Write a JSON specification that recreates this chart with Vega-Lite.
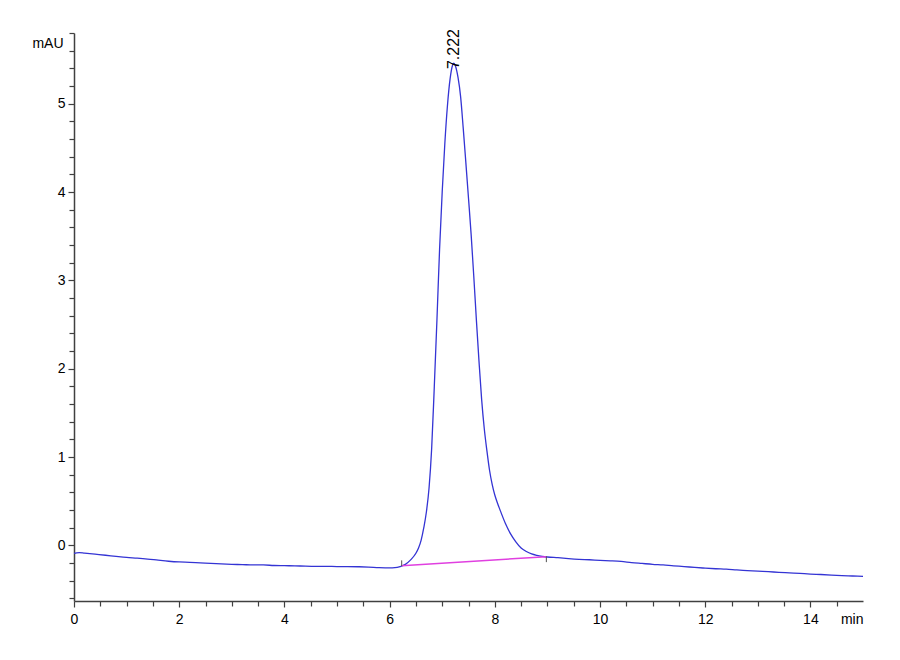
{
  "$schema": "https://vega.github.io/schema/vega-lite/v6.json",
  "width": 789,
  "height": 568,
  "autosize": "none",
  "padding": {"left": 74, "top": 33, "right": 37, "bottom": 59},
  "background": "white",
  "config": {
    "view": {"stroke": null},
    "axis": {
      "grid": false,
      "labelOverlap": false,
      "labelFlush": false,
      "domainColor": "#404040",
      "domainWidth": 1.5,
      "tickColor": "#404040",
      "tickWidth": 1.2,
      "labelColor": "#000000",
      "labelFont": "Liberation Sans",
      "labelFontSize": 14,
      "titleFont": "Liberation Sans",
      "titleFontSize": 14,
      "titleFontWeight": "normal",
      "titleColor": "#000000"
    }
  },
  "datasets": {
    "trace": [
      {"t": 0.0, "v": -0.092}, {"t": 0.05, "v": -0.085}, {"t": 0.1, "v": -0.082},
      {"t": 0.2, "v": -0.088}, {"t": 0.4, "v": -0.1}, {"t": 0.6, "v": -0.112},
      {"t": 0.8, "v": -0.125}, {"t": 1.0, "v": -0.137}, {"t": 1.2, "v": -0.145},
      {"t": 1.4, "v": -0.155}, {"t": 1.6, "v": -0.168}, {"t": 1.8, "v": -0.18},
      {"t": 2.0, "v": -0.188}, {"t": 2.2, "v": -0.192}, {"t": 2.4, "v": -0.198},
      {"t": 2.6, "v": -0.203}, {"t": 2.8, "v": -0.21}, {"t": 3.0, "v": -0.215},
      {"t": 3.2, "v": -0.218}, {"t": 3.4, "v": -0.222}, {"t": 3.6, "v": -0.222},
      {"t": 3.8, "v": -0.228}, {"t": 4.0, "v": -0.23}, {"t": 4.2, "v": -0.232},
      {"t": 4.4, "v": -0.236}, {"t": 4.6, "v": -0.238}, {"t": 4.8, "v": -0.237},
      {"t": 5.0, "v": -0.24}, {"t": 5.2, "v": -0.24}, {"t": 5.4, "v": -0.242},
      {"t": 5.6, "v": -0.246}, {"t": 5.8, "v": -0.252}, {"t": 6.0, "v": -0.255},
      {"t": 6.1, "v": -0.253}, {"t": 6.2, "v": -0.24}, {"t": 6.3, "v": -0.215},
      {"t": 6.4, "v": -0.165}, {"t": 6.5, "v": -0.09}, {"t": 6.55, "v": -0.03},
      {"t": 6.6, "v": 0.06}, {"t": 6.65, "v": 0.2}, {"t": 6.7, "v": 0.38},
      {"t": 6.75, "v": 0.65}, {"t": 6.8, "v": 1.1}, {"t": 6.85, "v": 1.8},
      {"t": 6.9, "v": 2.55}, {"t": 6.95, "v": 3.35}, {"t": 7.0, "v": 4.0},
      {"t": 7.05, "v": 4.55}, {"t": 7.1, "v": 4.98}, {"t": 7.15, "v": 5.28},
      {"t": 7.2, "v": 5.44}, {"t": 7.222, "v": 5.46}, {"t": 7.25, "v": 5.43},
      {"t": 7.3, "v": 5.3}, {"t": 7.35, "v": 5.08}, {"t": 7.4, "v": 4.72},
      {"t": 7.45, "v": 4.33}, {"t": 7.5, "v": 3.93}, {"t": 7.55, "v": 3.52},
      {"t": 7.6, "v": 3.05}, {"t": 7.65, "v": 2.55}, {"t": 7.7, "v": 2.08},
      {"t": 7.75, "v": 1.65}, {"t": 7.8, "v": 1.32}, {"t": 7.85, "v": 1.07},
      {"t": 7.9, "v": 0.85}, {"t": 7.95, "v": 0.69}, {"t": 8.0, "v": 0.57},
      {"t": 8.05, "v": 0.48}, {"t": 8.1, "v": 0.4}, {"t": 8.2, "v": 0.25},
      {"t": 8.3, "v": 0.13}, {"t": 8.4, "v": 0.04}, {"t": 8.5, "v": -0.03},
      {"t": 8.6, "v": -0.07}, {"t": 8.7, "v": -0.097},
      {"t": 8.8, "v": -0.113}, {"t": 8.9, "v": -0.124}, {"t": 9.0, "v": -0.132},
      {"t": 9.2, "v": -0.14}, {"t": 9.4, "v": -0.15}, {"t": 9.6, "v": -0.158},
      {"t": 9.8, "v": -0.163}, {"t": 10.0, "v": -0.17}, {"t": 10.2, "v": -0.175},
      {"t": 10.4, "v": -0.182}, {"t": 10.6, "v": -0.195}, {"t": 10.8, "v": -0.205},
      {"t": 11.0, "v": -0.215}, {"t": 11.2, "v": -0.222}, {"t": 11.4, "v": -0.232},
      {"t": 11.6, "v": -0.24}, {"t": 11.8, "v": -0.25}, {"t": 12.0, "v": -0.258},
      {"t": 12.2, "v": -0.265}, {"t": 12.4, "v": -0.27}, {"t": 12.6, "v": -0.278},
      {"t": 12.8, "v": -0.285}, {"t": 13.0, "v": -0.292}, {"t": 13.2, "v": -0.298},
      {"t": 13.4, "v": -0.306}, {"t": 13.6, "v": -0.312}, {"t": 13.8, "v": -0.318},
      {"t": 14.0, "v": -0.325}, {"t": 14.2, "v": -0.33}, {"t": 14.4, "v": -0.336},
      {"t": 14.6, "v": -0.342}, {"t": 14.8, "v": -0.347}, {"t": 15.0, "v": -0.352}
    ],
    "baseline": [
      {"t": 6.23, "v": -0.232},
      {"t": 8.98, "v": -0.128}
    ],
    "markers": [
      {"t": 6.23, "v1": -0.17, "v2": -0.235},
      {"t": 8.98, "v1": -0.125, "v2": -0.19}
    ],
    "peaks": [
      {"t": 7.222, "v": 5.46, "label": "7.222"}
    ]
  },
  "layer": [
    {
      "data": {"name": "trace"},
      "mark": {"type": "line", "color": "#3434d4", "strokeWidth": 1.3, "interpolate": "monotone"},
      "encoding": {
        "x": {
          "field": "t",
          "type": "quantitative",
          "scale": {"domain": [0, 15], "nice": false},
          "axis": {
            "values": [0, 0.5, 1, 1.5, 2, 2.5, 3, 3.5, 4, 4.5, 5, 5.5, 6, 6.5, 7, 7.5, 8, 8.5, 9, 9.5, 10, 10.5, 11, 11.5, 12, 12.5, 13, 13.5, 14, 14.5],
            "tickCount": 100,
            "labelExpr": "datum.value % 2 == 0 ? format(datum.value, 'd') : ''",
            "tickSize": {"condition": {"test": "datum.value % 2 == 0", "value": 6}, "value": 5},
            "labelPadding": 5,
            "labelOverlap": false,
            "title": "min",
            "titleX": 789,
            "titleY": 11,
            "titleAlign": "right",
            "titleBaseline": "top",
            "titleAnchor": null
          }
        },
        "y": {
          "field": "v",
          "type": "quantitative",
          "scale": {"domain": [-0.63, 5.8], "nice": false, "zero": false},
          "axis": {
            "values": [-0.6, -0.4, -0.2, 0, 0.2, 0.4, 0.6, 0.8, 1, 1.2, 1.4, 1.6, 1.8, 2, 2.2, 2.4, 2.6, 2.8, 3, 3.2, 3.4, 3.6, 3.8, 4, 4.2, 4.4, 4.6, 4.8, 5, 5.2, 5.4, 5.6, 5.8],
            "tickCount": 100,
            "labelExpr": "datum.value % 1 == 0 ? format(datum.value, 'd') : ''",
            "tickSize": {"condition": {"test": "datum.value % 1 == 0", "value": 6}, "value": 5},
            "labelPadding": 3,
            "labelOverlap": false,
            "title": "mAU",
            "titleAngle": 0,
            "titleX": -11,
            "titleY": 10,
            "titleAlign": "right",
            "titleBaseline": "middle",
            "titleAnchor": null
          }
        }
      }
    },
    {
      "data": {"name": "baseline"},
      "mark": {"type": "line", "color": "#e040e0", "strokeWidth": 1.5},
      "encoding": {
        "x": {"field": "t", "type": "quantitative"},
        "y": {"field": "v", "type": "quantitative"}
      }
    },
    {
      "data": {"name": "markers"},
      "mark": {"type": "rule", "color": "#505050", "strokeWidth": 1},
      "encoding": {
        "x": {"field": "t", "type": "quantitative"},
        "y": {"field": "v1", "type": "quantitative"},
        "y2": {"field": "v2"}
      }
    },
    {
      "data": {"name": "peaks"},
      "mark": {
        "type": "text",
        "angle": 270,
        "align": "left",
        "baseline": "middle",
        "yOffset": 6,
        "font": "Liberation Sans",
        "fontSize": 16,
        "color": "#000000"
      },
      "encoding": {
        "x": {"field": "t", "type": "quantitative"},
        "y": {"field": "v", "type": "quantitative"},
        "text": {"field": "label"}
      }
    }
  ]
}
